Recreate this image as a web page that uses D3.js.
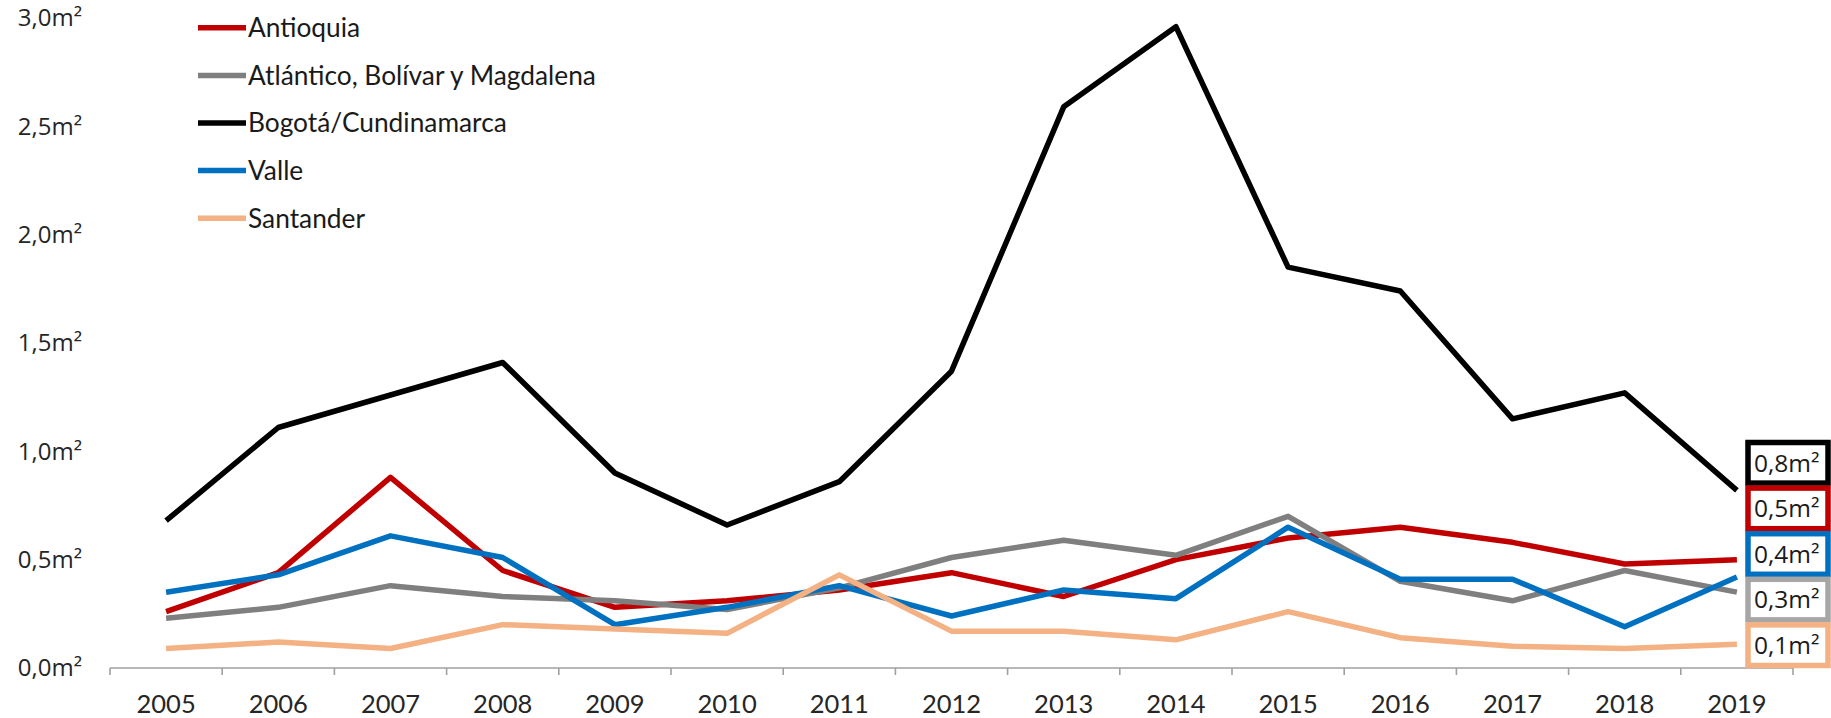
<!DOCTYPE html>
<html><head><meta charset="utf-8">
<script src="https://cdn.jsdelivr.net/npm/d3@7"></script>
<style>
html,body{margin:0;padding:0;background:#fff;}
svg{display:block;}
</style></head>
<body>
<svg id="chart" width="1831" height="718"></svg>
<script>
const years = ["2005","2006","2007","2008","2009","2010","2011","2012","2013","2014","2015","2016","2017","2018","2019"];
const seriesNames = ["Antioquia","Atlántico, Bolívar y Magdalena","Bogotá/Cundinamarca","Valle","Santander"];
const antioquia = [0.26,0.44,0.88,0.45,0.28,0.31,0.36,0.44,0.33,0.50,0.60,0.65,0.58,0.48,0.50];
const atlantico = [0.23,0.28,0.38,0.33,0.31,0.27,0.37,0.51,0.59,0.52,0.70,0.40,0.31,0.45,0.35];
const bogota    = [0.68,1.11,1.26,1.41,0.90,0.66,0.86,1.37,2.59,2.96,1.85,1.74,1.15,1.27,0.82];
const valle     = [0.35,0.43,0.61,0.51,0.20,0.28,0.38,0.24,0.36,0.32,0.65,0.41,0.41,0.19,0.42];
const santander = [0.09,0.12,0.09,0.20,0.18,0.16,0.43,0.17,0.17,0.13,0.26,0.14,0.10,0.09,0.11];
const yTicks = [0,0.5,1.0,1.5,2.0,2.5,3.0];
const endLabels = ["0,8m²","0,5m²","0,4m²","0,3m²","0,1m²"];
const endOrder = ["Bogotá/Cundinamarca","Antioquia","Valle","Atlántico, Bolívar y Magdalena","Santander"];

const colors = {
  "Antioquia":"#C00000",
  "Atlántico, Bolívar y Magdalena":"#7F7F7F",
  "Bogotá/Cundinamarca":"#000000",
  "Valle":"#0070C0",
  "Santander":"#F4B183"
};
const boxColors = {
  "Antioquia":"#C00000",
  "Atlántico, Bolívar y Magdalena":"#A6A6A6",
  "Bogotá/Cundinamarca":"#000000",
  "Valle":"#0070C0",
  "Santander":"#F4B183"
};
const values = [antioquia, atlantico, bogota, valle, santander];
const series = seriesNames.map((n,i)=>({name:n, values:values[i]}));

const svg = d3.select("#chart");
const x = d3.scaleBand().domain(years).range([110,1793]).paddingInner(0).paddingOuter(0);
const y = d3.scaleLinear().domain([0,3]).range([668,18]);

// y axis labels
const yAxis = d3.axisLeft(y).tickValues(yTicks).tickSize(0).tickPadding(0)
  .tickFormat(d => d.toFixed(1).replace(".", ",") + "m²");
const gy = svg.append("g").attr("transform","translate(82,0)").call(yAxis);
gy.select(".domain").remove();
gy.selectAll("text").attr("font-family","'Open Sans', sans-serif").attr("font-size",24).attr("fill","#262626");

// x axis
const gx = svg.append("g").attr("transform","translate(0,668)");
gx.append("line").attr("x1",x.range()[0]).attr("x2",x.range()[1]).attr("y1",0).attr("y2",0)
  .attr("stroke","#A0A0A0").attr("stroke-width",1.6);
const bounds = years.map(d=>x(d)).concat([x(years[years.length-1])+x.bandwidth()]);
gx.selectAll("line.tick").data(bounds).enter().append("line").attr("class","tick")
  .attr("x1",d=>d).attr("x2",d=>d).attr("y1",0).attr("y2",7)
  .attr("stroke","#A0A0A0").attr("stroke-width",1.6);
const xAxis = d3.axisBottom(x).tickSize(0).tickPadding(0);
const gxl = svg.append("g").attr("transform","translate(0,668)").call(xAxis);
gxl.select(".domain").remove();
gxl.selectAll("text").attr("font-family","Lato, sans-serif").attr("font-size",25.5)
  .attr("fill","#262626").attr("dy",null).attr("y",45);

// lines
const line = d3.line().x((d,i)=>x(years[i])+x.bandwidth()/2).y(d=>y(d));
svg.append("g").selectAll("path").data(series).enter().append("path")
  .attr("d",d=>line(d.values)).attr("fill","none")
  .attr("stroke",d=>colors[d.name]).attr("stroke-width",5.5)
  .attr("stroke-linejoin","round").attr("stroke-linecap","butt");

// legend
const legY = d3.scaleBand().domain(seriesNames).range([4,242]);
const leg = svg.append("g");
const li = leg.selectAll("g").data(seriesNames).enter().append("g")
  .attr("transform",d=>`translate(0,${legY(d)+legY.bandwidth()/2})`);
li.append("line").attr("x1",198).attr("x2",246).attr("y1",0).attr("y2",0)
  .attr("stroke",d=>colors[d]).attr("stroke-width",5.5);
li.append("text").attr("x",248).attr("y",0).attr("dy","0.36em")
  .attr("font-family","Lato, sans-serif").attr("font-size",26.3).attr("fill","#1a1a1a")
  .text(d=>d);

// end label boxes
const boxY = d3.scaleBand().domain(endOrder).range([440,668]);
const bx = svg.append("g").selectAll("g").data(endOrder).enter().append("g")
  .attr("transform",d=>`translate(1748,${boxY(d)})`);
bx.append("rect").attr("x",0).attr("y",2.5).attr("width",80).attr("height",boxY.bandwidth()-5)
  .attr("fill","#fff").attr("stroke",d=>boxColors[d]).attr("stroke-width",5.5);
bx.append("text").attr("x",6).attr("y",boxY.bandwidth()/2).attr("dy","0.36em")
  .attr("font-family","'Open Sans', sans-serif").attr("font-size",24.5).attr("fill","#1a1a1a")
  .text((d,i)=>endLabels[i]);
</script>
</body></html>
